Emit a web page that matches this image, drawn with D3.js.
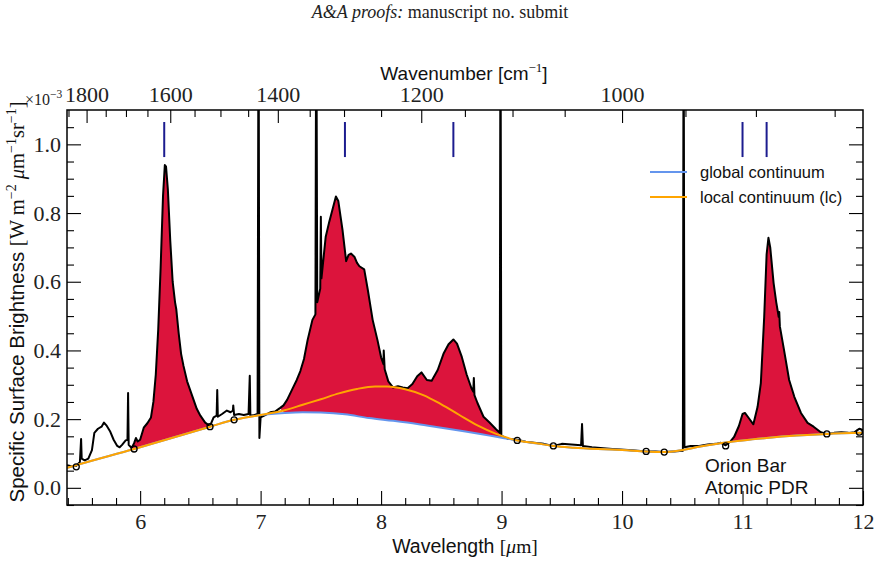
<!DOCTYPE html>
<html>
<head>
<meta charset="utf-8">
<script src="https://cdn.jsdelivr.net/npm/d3@7"></script>
<style>
  body { margin: 0; background: #fff; }
  svg { display: block; }
</style>
</head>
<body>
<div id="chart"></div>
<script>
// observed spectrum, [wavelength (um), brightness (1e-3 W m-2 um-1 sr-1)]
const spectrum = [
  [5.393, 0.066], [5.43, 0.063], [5.47, 0.064], [5.50, 0.075], [5.51, 0.142], [5.515, 0.085],
  [5.54, 0.080], [5.57, 0.085], [5.60, 0.110], [5.62, 0.160], [5.65, 0.172], [5.68, 0.178],
  [5.70, 0.190], [5.72, 0.182], [5.75, 0.165], [5.78, 0.140], [5.81, 0.122], [5.83, 0.118],
  [5.85, 0.125], [5.88, 0.138], [5.895, 0.140], [5.90, 0.276], [5.905, 0.125], [5.93, 0.116],
  [5.95, 0.130], [5.965, 0.145], [5.98, 0.135], [6.00, 0.140], [6.03, 0.175], [6.06, 0.188],
  [6.09, 0.205], [6.11, 0.250], [6.13, 0.330], [6.15, 0.460], [6.17, 0.640], [6.19, 0.850],
  [6.205, 0.940], [6.215, 0.935], [6.23, 0.870], [6.25, 0.720], [6.27, 0.600], [6.29, 0.540],
  [6.30, 0.520], [6.32, 0.450], [6.34, 0.390], [6.36, 0.355], [6.39, 0.310], [6.43, 0.270],
  [6.47, 0.230], [6.50, 0.210], [6.54, 0.190], [6.58, 0.180], [6.61, 0.205], [6.635, 0.210],
  [6.64, 0.285], [6.645, 0.207], [6.68, 0.215], [6.72, 0.225], [6.75, 0.220], [6.77, 0.225],
  [6.773, 0.240], [6.78, 0.212], [6.82, 0.215], [6.86, 0.212], [6.90, 0.215], [6.91, 0.326],
  [6.915, 0.210], [6.95, 0.212], [6.975, 0.215], [6.983, 1.5], [6.99, 0.145], [7.00, 0.205],
  [7.03, 0.210], [7.08, 0.220], [7.12, 0.222], [7.16, 0.232], [7.19, 0.240], [7.22, 0.256],
  [7.26, 0.285], [7.30, 0.314], [7.33, 0.340], [7.36, 0.375], [7.39, 0.430], [7.43, 0.489],
  [7.455, 0.505], [7.462, 1.5], [7.47, 0.540], [7.495, 0.580], [7.50, 0.789], [7.505, 0.610],
  [7.54, 0.730], [7.57, 0.775], [7.60, 0.815], [7.625, 0.848], [7.645, 0.835], [7.68, 0.750],
  [7.71, 0.660], [7.73, 0.678], [7.75, 0.682], [7.78, 0.672], [7.80, 0.655], [7.82, 0.645],
  [7.86, 0.636], [7.89, 0.576], [7.93, 0.489], [7.97, 0.430], [8.00, 0.380], [8.02, 0.360],
  [8.022, 0.400], [8.03, 0.345], [8.06, 0.310], [8.10, 0.292], [8.14, 0.296], [8.18, 0.292],
  [8.22, 0.290], [8.26, 0.302], [8.30, 0.325], [8.335, 0.336], [8.38, 0.314], [8.42, 0.312],
  [8.47, 0.343], [8.52, 0.392], [8.56, 0.418], [8.60, 0.432], [8.63, 0.420], [8.67, 0.381],
  [8.71, 0.330], [8.75, 0.290], [8.765, 0.280], [8.77, 0.320], [8.775, 0.270], [8.80, 0.247],
  [8.85, 0.207], [8.90, 0.190], [8.95, 0.172], [8.985, 0.160], [8.991, 1.5], [8.998, 0.152],
  [9.05, 0.143], [9.13, 0.140], [9.20, 0.134], [9.27, 0.131], [9.35, 0.128], [9.43, 0.122],
  [9.50, 0.128], [9.58, 0.126], [9.66, 0.124], [9.668, 0.186], [9.675, 0.122], [9.75, 0.118],
  [9.82, 0.116], [9.92, 0.113], [10.05, 0.110], [10.13, 0.108], [10.20, 0.106], [10.28, 0.106],
  [10.35, 0.104], [10.43, 0.106], [10.505, 0.108], [10.511, 1.5], [10.518, 0.118], [10.57, 0.122],
  [10.64, 0.122], [10.71, 0.126], [10.78, 0.128], [10.82, 0.131], [10.86, 0.124], [10.90, 0.135],
  [10.93, 0.148], [10.97, 0.180], [11.00, 0.215], [11.02, 0.218], [11.05, 0.204], [11.09, 0.185],
  [11.125, 0.236], [11.152, 0.305], [11.18, 0.498], [11.20, 0.680], [11.215, 0.728], [11.23, 0.700],
  [11.258, 0.596], [11.28, 0.540], [11.30, 0.498], [11.305, 0.512], [11.31, 0.470], [11.345, 0.400],
  [11.387, 0.314], [11.43, 0.265], [11.485, 0.218], [11.54, 0.189], [11.59, 0.178], [11.65, 0.162],
  [11.70, 0.157], [11.76, 0.160], [11.82, 0.162], [11.88, 0.160], [11.93, 0.162], [11.97, 0.172],
  [12.0, 0.168]
];

const localCont = [
  [5.393, 0.058], [5.47, 0.066], [5.95, 0.113], [6.58, 0.178], [6.78, 0.198], [7.0, 0.212],
  [7.2, 0.226], [7.35, 0.242], [7.5, 0.258], [7.65, 0.275], [7.8, 0.288], [7.95, 0.295],
  [8.05, 0.295], [8.2, 0.287], [8.35, 0.270], [8.5, 0.243], [8.65, 0.212], [8.8, 0.182],
  [8.95, 0.158], [9.13, 0.138], [9.3, 0.129], [9.43, 0.122], [9.6, 0.117], [9.8, 0.113],
  [10.0, 0.110], [10.2, 0.106], [10.35, 0.104], [10.5, 0.110], [10.65, 0.120], [10.86, 0.132],
  [11.0, 0.138], [11.2, 0.145], [11.45, 0.152], [11.7, 0.157], [12.0, 0.160]
];

const globalCont = [
  [5.393, 0.058], [5.47, 0.066], [5.95, 0.113], [6.58, 0.178], [6.78, 0.198], [7.0, 0.212],
  [7.2, 0.218], [7.35, 0.220], [7.5, 0.219], [7.7, 0.214], [7.9, 0.203], [8.1, 0.195],
  [8.3, 0.186], [8.5, 0.175], [8.7, 0.164], [8.9, 0.152], [9.0, 0.146], [9.13, 0.138],
  [9.3, 0.129], [9.43, 0.122], [9.6, 0.117], [9.8, 0.113], [10.0, 0.110], [10.2, 0.106],
  [10.35, 0.104], [10.5, 0.110], [10.65, 0.120], [10.86, 0.132], [11.0, 0.138], [11.2, 0.145],
  [11.45, 0.152], [11.7, 0.157], [12.0, 0.160]
];

const anchorWl = [5.47, 5.95, 6.58, 6.78, 9.13, 9.43, 10.20, 10.35, 10.86, 11.70, 11.97];
const anchorFlux = [0.061, 0.113, 0.178, 0.198, 0.138, 0.122, 0.106, 0.104, 0.122, 0.157, 0.162];

const featureRanges = [[5.905, 6.58], [7.16, 9.13], [10.86, 11.70]];
const bandCenters = [6.2, 7.7, 8.6, 11.0, 11.2];
const bandMarkLow = 0.963, bandMarkHigh = 1.065;

const xMajor = [6, 7, 8, 9, 10, 11, 12];
const xMinor = [5.4, 5.6, 5.8, 6.2, 6.4, 6.6, 6.8, 7.2, 7.4, 7.6, 7.8, 8.2, 8.4, 8.6, 8.8,
  9.2, 9.4, 9.6, 9.8, 10.2, 10.4, 10.6, 10.8, 11.2, 11.4, 11.6, 11.8];
const yMajor = [0.0, 0.2, 0.4, 0.6, 0.8, 1.0];
const yMinor = [-0.05, 0.05, 0.1, 0.15, 0.25, 0.3, 0.35, 0.45, 0.5, 0.55, 0.65, 0.7, 0.75,
  0.85, 0.9, 0.95, 1.05];
const wnMajor = [1800, 1600, 1400, 1200, 1000];
const wnMinor = [1850, 1750, 1700, 1650, 1550, 1500, 1450, 1350, 1300, 1250, 1150, 1100,
  1050, 950, 900, 850];

const serif = "'Liberation Serif', serif";
const sans = "'Liberation Sans', sans-serif";

const W = 880, H = 564;
const plot = { left: 67, right: 863, top: 110, bottom: 505 };

const svg = d3.select("#chart").append("svg")
  .attr("width", W).attr("height", H);

const x = d3.scaleLinear().domain([5.393, 12]).range([plot.left, plot.right]);
const y = d3.scaleLinear().domain([-0.05, 1.1]).range([plot.bottom, plot.top]);

svg.append("defs").append("clipPath").attr("id", "clip")
  .append("rect")
  .attr("x", plot.left).attr("y", plot.top)
  .attr("width", plot.right - plot.left).attr("height", plot.bottom - plot.top);

const g = svg.append("g").attr("clip-path", "url(#clip)");

// feature fills between spectrum and global continuum
featureRanges.forEach(([a, b]) => {
  const top = spectrum.filter(d => d[0] >= a && d[0] <= b);
  const bot = globalCont.filter(d => d[0] >= a && d[0] <= b).reverse();
  g.append("path")
    .attr("d", d3.line().x(d => x(d[0])).y(d => y(d[1]))(top.concat(bot)) + "Z")
    .attr("fill", "#dc143c")
    .attr("stroke", "none");
});

const line = d3.line().x(d => x(d[0])).y(d => y(d[1]));

g.append("path").datum(spectrum)
  .attr("d", line)
  .attr("fill", "none")
  .attr("stroke", "#000")
  .attr("stroke-width", 2)
  .attr("stroke-linejoin", "round");

g.append("path").datum(globalCont)
  .attr("d", line.curve(d3.curveMonotoneX))
  .attr("fill", "none")
  .attr("stroke", "#6495ed")
  .attr("stroke-width", 2);

g.append("path").datum(localCont)
  .attr("d", line.curve(d3.curveMonotoneX))
  .attr("fill", "none")
  .attr("stroke", "#ffa500")
  .attr("stroke-width", 2);

g.selectAll(".anchor")
  .data(anchorWl)
  .join("circle")
  .attr("class", "anchor")
  .attr("cx", d => x(d))
  .attr("cy", (d, i) => y(anchorFlux[i]))
  .attr("r", 3)
  .attr("fill", "none")
  .attr("stroke", "#000")
  .attr("stroke-width", 1.3);

// band position markers
g.selectAll(".band")
  .data(bandCenters)
  .join("line")
  .attr("class", "band")
  .attr("x1", d => x(d)).attr("x2", d => x(d))
  .attr("y1", y(bandMarkLow)).attr("y2", y(bandMarkHigh))
  .attr("stroke", "#1c1c8f")
  .attr("stroke-width", 2);

// axes, ticks pointing in
function styleAxis(sel) {
  sel.select(".domain").remove();
  sel.selectAll("line").attr("stroke", "#000").attr("stroke-width", 1.1);
  sel.selectAll("text").attr("fill", "#222").style("font-family", serif).style("font-size", "22px");
}

svg.append("g").attr("transform", `translate(0,${plot.bottom})`)
  .call(d3.axisBottom(x).tickValues(xMajor).tickSize(-14).tickPadding(8).tickFormat(d3.format("d")))
  .call(styleAxis);
svg.append("g").attr("transform", `translate(0,${plot.bottom})`)
  .call(d3.axisBottom(x).tickValues(xMinor).tickSize(-7).tickFormat(""))
  .call(styleAxis);

svg.append("g").attr("transform", `translate(${plot.left},0)`)
  .call(d3.axisLeft(y).tickValues(yMajor).tickSize(-14).tickPadding(6).tickFormat(d3.format(".1f")))
  .call(styleAxis);
svg.append("g").attr("transform", `translate(${plot.left},0)`)
  .call(d3.axisLeft(y).tickValues(yMinor).tickSize(-7).tickFormat(""))
  .call(styleAxis);
svg.append("g").attr("transform", `translate(${plot.right},0)`)
  .call(d3.axisRight(y).tickValues(yMajor).tickSize(-14).tickFormat(""))
  .call(styleAxis);
svg.append("g").attr("transform", `translate(${plot.right},0)`)
  .call(d3.axisRight(y).tickValues(yMinor).tickSize(-7).tickFormat(""))
  .call(styleAxis);

// wavenumber axis on top
svg.append("g").attr("transform", `translate(0,${plot.top})`)
  .call(d3.axisTop(x).tickValues(wnMajor.map(k => 1e4 / k)).tickSize(-13).tickPadding(8)
    .tickFormat(d => Math.round(1e4 / d)))
  .call(styleAxis);
svg.append("g").attr("transform", `translate(0,${plot.top})`)
  .call(d3.axisTop(x).tickValues(wnMinor.map(k => 1e4 / k)).tickSize(-7).tickFormat(""))
  .call(styleAxis);

svg.append("rect")
  .attr("x", plot.left).attr("y", plot.top)
  .attr("width", plot.right - plot.left).attr("height", plot.bottom - plot.top)
  .attr("fill", "none").attr("stroke", "#000").attr("stroke-width", 1.5);

// titles
svg.append("text")
  .attr("x", 440).attr("y", 18).attr("text-anchor", "middle")
  .style("font-family", serif).style("font-size", "18px").attr("fill", "#222")
  .call(t => {
    t.append("tspan").attr("font-style", "italic").text("A&A proofs:");
    t.append("tspan").text(" manuscript no. submit");
  });

const xt = svg.append("text")
  .attr("x", 465).attr("y", 553).attr("text-anchor", "middle")
  .style("font-family", sans).style("font-size", "19.5px").attr("fill", "#111");
xt.append("tspan").text("Wavelength ");
xt.append("tspan").style("font-family", serif).text("[");
xt.append("tspan").style("font-family", serif).attr("font-style", "italic").text("\u03bc");
xt.append("tspan").style("font-family", serif).text("m]");

const tt = svg.append("text")
  .attr("x", 464).attr("y", 80).attr("text-anchor", "middle")
  .style("font-family", sans).style("font-size", "19px").attr("fill", "#111");
tt.append("tspan").text("Wavenumber [cm");
tt.append("tspan").attr("dy", -8).style("font-size", "13px").style("font-family", serif).text("\u22121");
tt.append("tspan").attr("dy", 8).text("]");

const yt = svg.append("text")
  .attr("transform", "translate(24,302) rotate(-90)")
  .attr("text-anchor", "middle")
  .style("font-family", sans).style("font-size", "20.5px").attr("fill", "#111");
yt.append("tspan").text("Specific Surface Brightness ");
yt.append("tspan").style("font-family", serif).text("[W m");
yt.append("tspan").attr("dy", -8).style("font-family", serif).style("font-size", "14px").text("\u22122");
yt.append("tspan").attr("dy", 8).style("font-family", serif).attr("font-style", "italic").text(" \u03bc");
yt.append("tspan").style("font-family", serif).text("m");
yt.append("tspan").attr("dy", -8).style("font-family", serif).style("font-size", "14px").text("\u22121");
yt.append("tspan").attr("dy", 8).style("font-family", serif).text("sr");
yt.append("tspan").attr("dy", -8).style("font-family", serif).style("font-size", "14px").text("\u22121");
yt.append("tspan").attr("dy", 8).style("font-family", serif).text("]");

const ot = svg.append("text")
  .attr("x", 25).attr("y", 105)
  .style("font-family", serif).style("font-size", "16px").attr("fill", "#222");
ot.append("tspan").text("\u00d710");
ot.append("tspan").attr("dy", -7).style("font-size", "11.5px").text("\u22123");

// legend
const legendItems = [["global continuum", "#6495ed"], ["local continuum (lc)", "#ffa500"]];
const lg = svg.append("g");
legendItems.forEach(([label, color], i) => {
  const yy = 172 + i * 25;
  lg.append("line").attr("x1", 650).attr("x2", 687).attr("y1", yy).attr("y2", yy)
    .attr("stroke", color).attr("stroke-width", 2);
  lg.append("text").attr("x", 700).attr("y", yy + 6)
    .style("font-family", sans).style("font-size", "16.5px").attr("fill", "#111").text(label);
});

svg.append("text").attr("x", 705).attr("y", 472)
  .style("font-family", sans).style("font-size", "19px").attr("fill", "#111").text("Orion Bar");
svg.append("text").attr("x", 705).attr("y", 494)
  .style("font-family", sans).style("font-size", "19px").attr("fill", "#111").text("Atomic PDR");
</script>
</body>
</html>
